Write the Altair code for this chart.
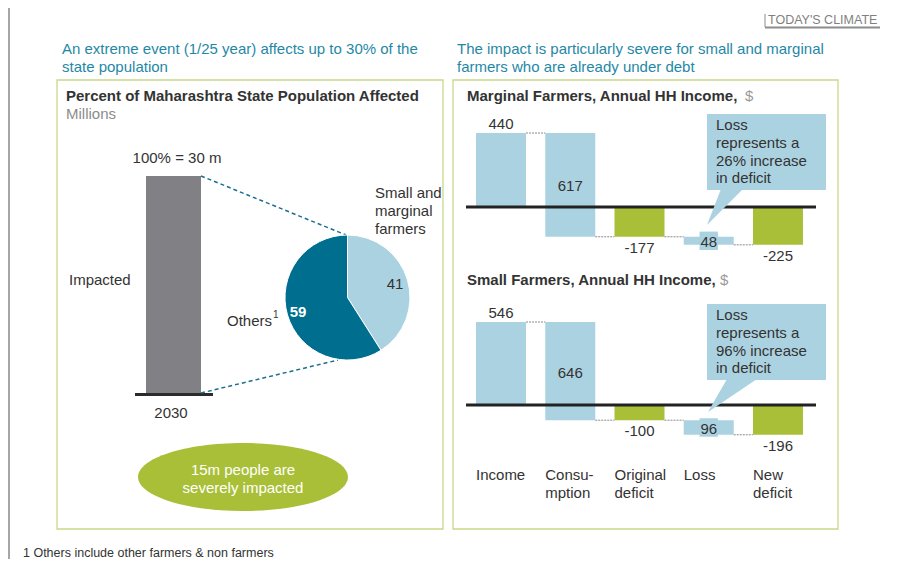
import altair as alt
import pandas as pd

# ---------------- data ----------------
pop_total_pct = [100]
pop_total_label = "100% = 30 m"
pop_year = "2030"
pie_groups = ["Small and marginal farmers", "Others"]
pie_values = [41, 59]
wf_categories = ["Income", "Consumption", "Original deficit", "Loss", "New deficit"]
wf_axis_labels = ["Income", "Consu-\nmption", "Original\ndeficit", "Loss", "New\ndeficit"]
marginal_values = [440, 617, -177, 48, -225]
small_values = [546, 646, -100, 96, -196]
marginal_loss_pct = 26
small_loss_pct = 96

# ---------------- style ----------------
FONT = "Liberation Sans"
LB = "#abd2e1"
GREEN = "#a9bf38"
DARK = "#006f8f"
HEAD = "#1f88a6"
BORDER = "#c8d989"
TXT = "#333333"
GRAYBAR = "#818185"
OX, OY = 8, 8


def vx(p):
    return alt.value(p - OX)


def vy(p):
    return alt.value(p - OY)


one = alt.Data(values=[{"a": 1}])


def text(s, x, y, size=15, color=TXT, align="left", weight="normal", lh=18, baseline="alphabetic"):
    return alt.Chart(one).mark_text(
        text=s, align=align, baseline=baseline, fontSize=size, font=FONT,
        color=color, fontWeight=weight, lineHeight=lh
    ).encode(x=vx(x), y=vy(y))


def rule(x1, y1, x2, y2, color, width, dash=None):
    kw = dict(color=color, strokeWidth=width)
    if dash:
        kw["strokeDash"] = dash
    return alt.Chart(one).mark_rule(**kw).encode(x=vx(x1), x2=vx(x2), y=vy(y1), y2=vy(y2))


def rect(x1, y1, x2, y2, fill=None, stroke=None, sw=1):
    kw = {}
    if fill:
        kw["fill"] = fill
    else:
        kw["fillOpacity"] = 0
    if stroke:
        kw["stroke"] = stroke
        kw["strokeWidth"] = sw
    return alt.Chart(one).mark_rect(**kw).encode(x=vx(x1), x2=vx(x2), y=vy(y1), y2=vy(y2))


def shape(path, x, y, fill):
    return alt.Chart(one).mark_point(
        shape=path, size=4, filled=True, fill=fill, opacity=1, strokeWidth=0
    ).encode(x=vx(x), y=vy(y))


layers = []

# frame decorations
layers.append(rule(9, 8, 9, 559, "#a6a6a6", 2))
layers.append(rule(765, 14, 765, 27, "#8c8c8c", 1))
layers.append(rule(765, 27.5, 880, 27.5, "#8c8c8c", 2))
layers.append(text("TODAY'S CLIMATE", 768, 24, size=12.5, color="#7f7f7f"))

layers.append(text(["An extreme event (1/25 year) affects up to 30% of the", "state population"], 62, 54, color=HEAD))
layers.append(text(["The impact is particularly severe for small and marginal", "farmers who are already under debt"], 457, 54, color=HEAD))

layers.append(rect(57, 80, 443, 529, stroke=BORDER, sw=1.3))
layers.append(rect(453, 80, 838, 529, stroke=BORDER, sw=1.3))

# ---------------- left panel ----------------
layers.append(text("Percent of Maharashtra State Population Affected", 66, 101, size=15, weight="bold"))
layers.append(text("Millions", 66, 119, size=15, color="#8c8c8c"))

bar_df = pd.DataFrame({"v": pop_total_pct})
layers.append(
    alt.Chart(bar_df).mark_rect(color=GRAYBAR).encode(
        x=vx(146), x2=vx(201),
        y=alt.Y("v:Q", scale=alt.Scale(domain=[0, 100], range=[393 - OY, 176 - OY]), axis=None),
        y2=alt.datum(0),
    )
)
layers.append(rule(135, 394.5, 213, 394.5, "#2b2b2b", 3))
layers.append(text(pop_total_label, 177, 163, align="center"))
layers.append(text(pop_year, 171, 418, align="center"))
layers.append(text("Impacted", 69, 285))

# dashed connectors to pie
layers.append(rule(201, 176, 346, 235, "#1b6f8f", 1.5, [4, 3]))
layers.append(rule(201, 393, 338, 360, "#1b6f8f", 1.5, [4, 3]))

pie_df = pd.DataFrame({"group": pie_groups, "value": pie_values, "ord": [0, 1], "fill": [LB, DARK]})
layers.append(
    alt.Chart(pie_df).mark_arc(radius=62.5, stroke="white", strokeWidth=1).encode(
        theta=alt.Theta("value:Q", stack=True),
        color=alt.Color("fill:N", scale=None),
        order=alt.Order("ord:Q"),
        x=vx(347.5), y=vy(297.5),
    )
)
layers.append(text(str(pie_values[0]), 395, 289, align="center"))
layers.append(text(str(pie_values[1]), 298, 317, align="center", color="white", weight="bold"))
layers.append(text(["Small and", "marginal", "farmers"], 375, 198))
layers.append(text("Others", 272, 326, align="right"))
layers.append(text("1", 273, 318, size=10))

# green ellipse
layers.append(shape("M -105 0 A 105 34 0 1 0 105 0 A 105 34 0 1 0 -105 0 Z", 243, 477, GREEN))
layers.append(text(["15m people are", "severely impacted"], 243, 475, align="center", color="white"))

# footnote
layers.append(text("1 Others include other farmers & non farmers", 23, 557, size=12.5))

# ---------------- right panel: waterfalls ----------------
HW = 25 / 69.25
XS = alt.Scale(domain=[-0.5, 4.5], range=[466.4 - OX, 812.6 - OX])


def wf_frame(vals):
    inc, cons, orig, loss, new = vals
    starts = [0, inc, 0, orig, 0]
    ends = [inc, inc - cons, orig, orig - loss, new]
    fills = [LB, LB, GREEN, LB, GREEN]
    pos = ["above", "mid", "below", "mid", "below"]
    return pd.DataFrame({
        "cat": wf_categories,
        "i": list(range(5)),
        "xs": [i - HW for i in range(5)],
        "xe": [i + HW for i in range(5)],
        "start": starts,
        "end": ends,
        "mid": [(s + e) / 2 for s, e in zip(starts, ends)],
        "fill": fills,
        "pos": pos,
        "label": [str(v) for v in vals],
    })


def waterfall(vals, zero, k, title_y, title_text, dollar_x, box_top, pct, ptr_path, ptr_x, ptr_y):
    df = wf_frame(vals)
    ys = alt.Scale(domain=[-400, 700], range=[zero + 400 * k - OY, zero - 700 * k - OY])
    X = lambda f: alt.X(f, scale=XS, axis=None)
    Y = lambda f: alt.Y(f, scale=ys, axis=None)
    out = []
    out.append(text(title_text, 467, title_y, size=15, weight="bold"))
    out.append(text("$", dollar_x, title_y, size=15, color="#999999"))
    base = alt.Chart(df)
    out.append(base.mark_rect().encode(
        x=X("xs:Q"), x2="xe:Q", y=Y("start:Q"), y2="end:Q",
        color=alt.Color("fill:N", scale=None)))
    conn = pd.DataFrame({
        "x1": [i + HW for i in range(4)],
        "x2": [i + 1 - HW for i in range(4)],
        "lvl": list(df["end"][:4]),
    })
    out.append(alt.Chart(conn).mark_rule(color="#8a8a8a", strokeWidth=1, strokeDash=[2, 1]).encode(
        x=X("x1:Q"), x2="x2:Q", y=Y("lvl:Q")))
    out.append(rule(466, zero, 816, zero, "#222222", 3))
    # callout
    out.append(rect(707, box_top, 826, box_top + 76, fill=LB))
    out.append(shape(ptr_path, ptr_x, ptr_y, LB))
    out.append(text(["Loss", "represents a", f"{pct}% increase", "in deficit"], 716, box_top + 16, lh=17.8))
    loss = df[df["cat"] == "Loss"]
    out.append(alt.Chart(loss).mark_square(size=340, color=LB, opacity=1).encode(x=X("i:Q"), y=Y("mid:Q")))
    tkw = dict(font=FONT, fontSize=15, color=TXT, align="center")
    out.append(base.transform_filter("datum.pos == 'above'").mark_text(baseline="alphabetic", dy=-4, **tkw).encode(
        x=X("i:Q"), y=Y("end:Q"), text="label:N"))
    out.append(base.transform_filter("datum.pos == 'mid'").mark_text(baseline="middle", dy=1.5, **tkw).encode(
        x=X("i:Q"), y=Y("mid:Q"), text="label:N"))
    out.append(base.transform_filter("datum.pos == 'below'").mark_text(baseline="alphabetic", dy=16, **tkw).encode(
        x=X("i:Q"), y=Y("end:Q"), text="label:N"))
    return out


layers += waterfall(marginal_values, 207, 74 / 440, 101, "Marginal Farmers, Annual HH Income,", 745,
                    114, marginal_loss_pct, "M 14 0 L 0 36 L 36 0 Z", 707, 189)
layers += waterfall(small_values, 405, 83 / 546, 285, "Small Farmers, Annual HH Income,", 720,
                    304, small_loss_pct, "M 20 0 L 1 33 L 50 0 Z", 707, 379)

cat_df = pd.DataFrame({"xs": [i - HW for i in range(5)], "lab": wf_axis_labels})
layers.append(alt.Chart(cat_df).mark_text(
    font=FONT, fontSize=15, color=TXT, align="left", baseline="alphabetic", lineBreak="\n", lineHeight=18
).encode(x=alt.X("xs:Q", scale=XS, axis=None), y=vy(480), text="lab:N"))

chart = alt.layer(*layers).resolve_scale(
    x="independent", y="independent", color="independent", theta="independent"
).properties(
    width=886, height=551, padding=0, autosize=alt.AutoSizeParams(type="none"), background="white"
).configure_view(stroke=None)

chart.save("out.html", embed_options={"renderer": "svg", "actions": False})
